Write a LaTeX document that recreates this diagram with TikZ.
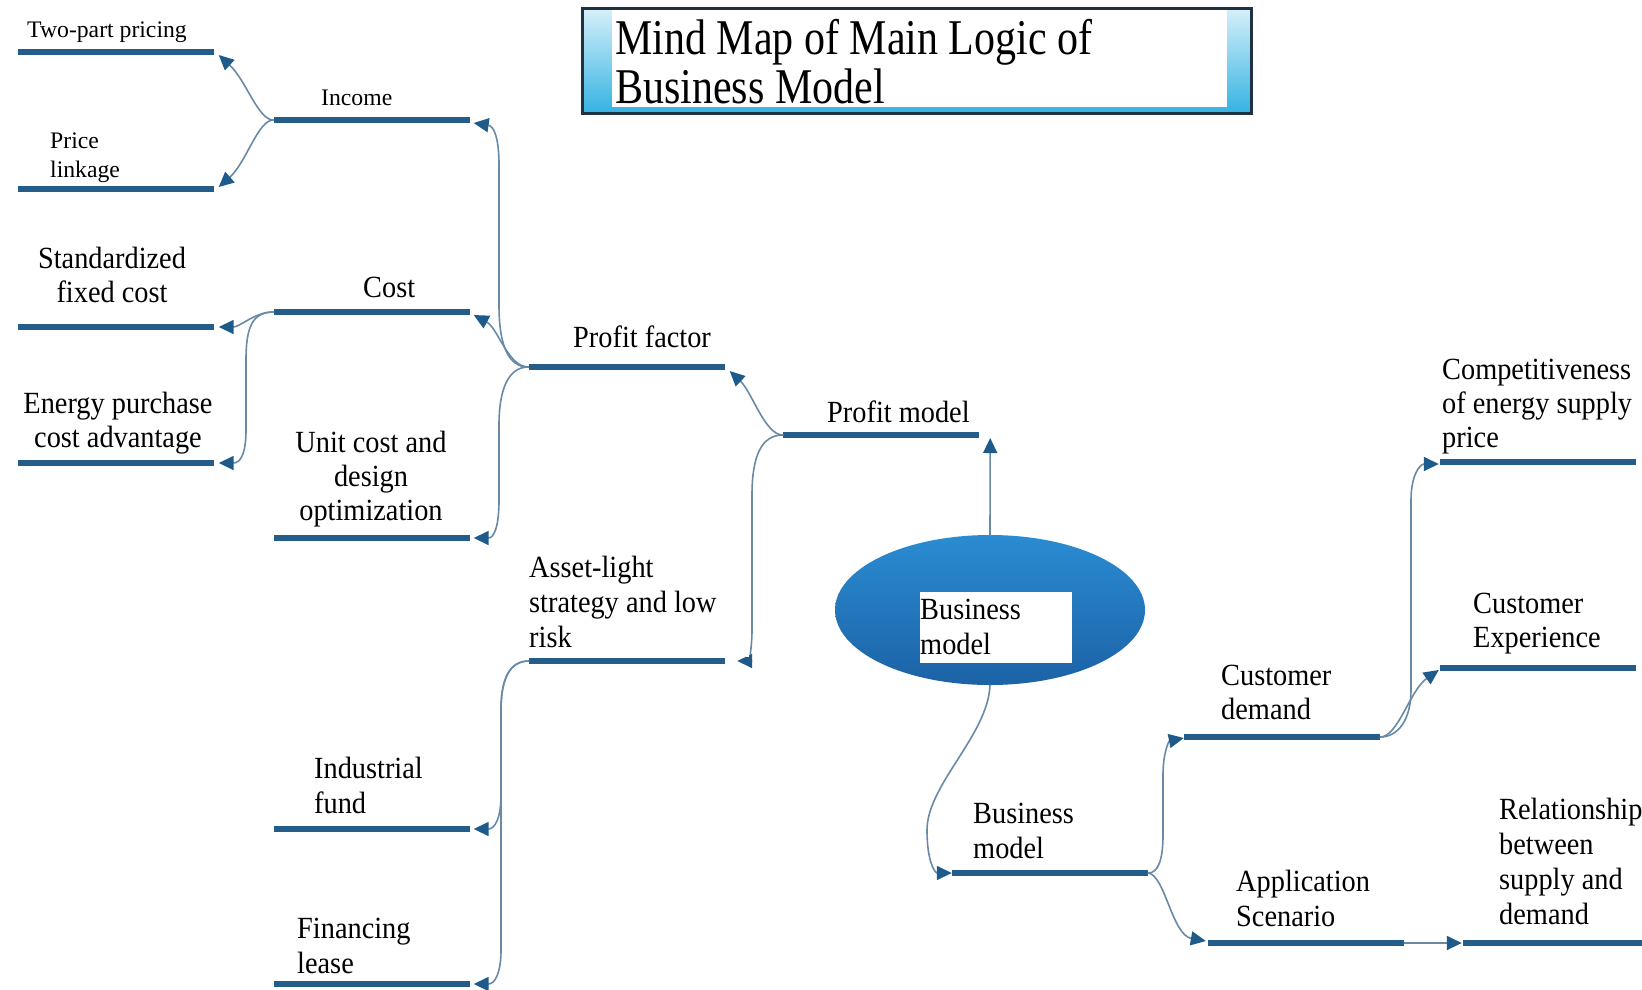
\documentclass[tikz,border=0pt]{standalone}
\usepackage{fontspec}
\setmainfont{Liberation Serif}
\newfontfamily\labelfont{Liberation Serif}[FakeStretch=0.92]
\newfontfamily\headfont{Liberation Serif}[FakeStretch=0.84]
\usetikzlibrary{arrows.meta,shapes.geometric,calc}

\definecolor{barblue}{RGB}{36,92,138}
\definecolor{linkblue}{RGB}{105,138,166}
\definecolor{tipblue}{RGB}{30,90,138}
\definecolor{coretop}{RGB}{42,140,210}
\definecolor{corebottom}{RGB}{28,98,166}
\definecolor{frameedge}{RGB}{30,50,66}
\definecolor{framelight}{RGB}{214,240,250}
\definecolor{framedeep}{RGB}{52,178,226}

% stacked lines whose baseline is the first line
\newcommand\mmlines[2]{\begin{tabular}[t]{@{}#1@{}}#2\end{tabular}}

\begin{document}
\begin{tikzpicture}[x=1pt,y=-1pt,
  bar/.style={rectangle, fill=barblue, inner sep=0pt, minimum height=6.5pt,
    minimum width=196pt},
  conn/.style={draw=linkblue, line width=1.6pt, line cap=round,
    -{Triangle[length=15pt,width=14pt,color=tipblue,fill=tipblue]}},
  lbl/.style={inner sep=0pt, font=\labelfont\fontsize{30.8}{34}\selectfont},
  lblwide/.style={inner sep=0pt, font=\labelfont\fontsize{30.8}{35}\selectfont},
  small/.style={inner sep=0pt, font=\fontsize{23.7}{29}\selectfont},
  headline/.style={inner sep=0pt, font=\headfont\fontsize{50}{48}\selectfont}
]
\fill[white] (0,0) rectangle (1642,989);
\useasboundingbox (0,0) rectangle (1642,989);

% title panel
\node[draw=frameedge, line width=3pt, top color=framelight, bottom color=framedeep,
  minimum width=669pt, minimum height=105pt, inner sep=0pt] (titleframe) at (917,61) {};
\node[fill=white, inner sep=0pt, minimum width=615pt, minimum height=97pt] (titlepanel) at (919.5,58.5) {};
\node[headline, anchor=base west] (title) at (615,54) {\mmlines{l}{Mind Map of Main Logic of\\Business Model}};

% central topic
\node[ellipse, minimum width=310pt, minimum height=150pt, inner sep=0pt,
  top color=coretop, bottom color=corebottom] (core) at (990,610) {};

% branch bars
\node[bar] (twopart) at (115.5,52) {};
\node[bar] (pricelink) at (115.5,189) {};
\node[bar] (income) at (371.5,120) {};
\node[bar] (cost) at (371.5,312) {};
\node[bar] (stdcost) at (115.5,327) {};
\node[bar] (energy) at (115.5,463) {};
\node[bar] (unitcost) at (371.5,538) {};
\node[bar] (pfactor) at (626.5,367) {};
\node[bar] (pmodel) at (881,435) {};
\node[bar] (asset) at (627,661) {};
\node[bar] (indfund) at (371.5,829) {};
\node[bar] (finlease) at (371.5,984) {};
\node[bar] (bmodel) at (1050,873) {};
\node[bar] (cdemand) at (1282,737) {};
\node[bar] (appscen) at (1306,943) {};
\node[bar, minimum width=182pt] (relation) at (1554,943) {};
\node[bar] (compet) at (1538,462) {};
\node[bar] (cexp) at (1538,668) {};

% connectors
\draw[conn] (core.north) -- ($(pmodel.east)+(11,3)$);
\draw[conn] (core.south) .. controls (988,735) and (927,785) .. (927,830)
  .. controls (927,862) and (935,873) .. (bmodel.west);

\draw[conn] (pmodel.west) .. controls (765,435) and (752,392) .. ($(pfactor.east)+(5,4)$);
\draw[conn] (pmodel.west) .. controls (762,435) and (752,455) .. (752,495) -- (752,630)
  .. controls (752,650) and (748,661) .. ($(asset.east)+(12,0)$);

\draw[conn] (pfactor.west) .. controls (508,367) and (499,345) .. (499,305) -- (499,165)
  .. controls (499,138) and (494,126) .. ($(income.east)+(4,3)$);
\draw[conn] (pfactor.west) .. controls (508,367) and (498,328) .. ($(cost.east)+(4,3)$);
\draw[conn] (pfactor.west) .. controls (508,367) and (499,390) .. (499,425) -- (499,500)
  .. controls (499,527) and (494,538) .. ($(unitcost.east)+(4,0)$);

\draw[conn] (income.west) .. controls (258,120) and (246,80) .. ($(twopart.east)+(5,3)$);
\draw[conn] (income.west) .. controls (258,120) and (246,163) .. ($(pricelink.east)+(5,-2)$);

\draw[conn] (cost.west) .. controls (255,312) and (240,327) .. ($(stdcost.east)+(5,0)$);
\draw[conn] (cost.west) .. controls (252,312) and (246,328) .. (246,360) -- (246,430)
  .. controls (246,455) and (240,463) .. ($(energy.east)+(5,0)$);

\draw[conn] (asset.west) .. controls (510,661) and (501,678) .. (501,710) -- (501,795)
  .. controls (501,818) and (495,829) .. ($(indfund.east)+(4,0)$);
\draw[conn] (asset.west) .. controls (510,661) and (501,678) .. (501,710) -- (501,950)
  .. controls (501,973) and (495,984) .. ($(finlease.east)+(4,0)$);

\draw[conn] (bmodel.east) .. controls (1158,873) and (1163,860) .. (1163,835) -- (1163,775)
  .. controls (1163,752) and (1169,741) .. ($(cdemand.west)+(0,1)$);
\draw[conn] (bmodel.east) .. controls (1165,875) and (1172,935) .. ($(appscen.west)+(-2,-2)$);
\draw[conn] (appscen.east) -- ($(relation.west)+(-1,0)$);

\draw[conn] (cdemand.east) .. controls (1398,737) and (1411,720) .. (1411,690) -- (1411,500)
  .. controls (1411,475) and (1420,464) .. ($(compet.west)+(-1,2)$);
\draw[conn] (cdemand.east) .. controls (1398,737) and (1410,690) .. ($(cexp.west)+(-1,2)$);

% labels
\node[small, anchor=base west] (twoparttxt) at (27,37) {Two-part pricing};
\node[small, anchor=base west] (incometxt) at (321,105) {Income};
\node[small, anchor=base west] (pricetxt) at (50,148) {\mmlines{l}{Price\\linkage}};
\node[lbl, anchor=base] (stdtxt) at (112,268) {\mmlines{c}{Standardized\\fixed cost}};
\node[lbl, anchor=base west] (costtxt) at (363,297) {Cost};
\node[lbl, anchor=base] (energytxt) at (118,413) {\mmlines{c}{Energy purchase\\cost advantage}};
\node[lbl, anchor=base] (unittxt) at (371,452) {\mmlines{c}{Unit cost and\\design\\optimization}};
\node[lbl, anchor=base west] (pfactortxt) at (573,347) {Profit factor};
\node[lbl, anchor=base west] (pmodeltxt) at (827,422) {Profit model};
\fill[white] (527,548) rectangle (749,657);
\node[lblwide, anchor=base west] (assettxt) at (529,577) {\mmlines{l}{Asset-light\\strategy and low\\risk}};
\node[lblwide, anchor=base west] (indtxt) at (314,778) {\mmlines{l}{Industrial\\fund}};
\node[lblwide, anchor=base west] (fintxt) at (297,938) {\mmlines{l}{Financing\\lease}};
\node[fill=white, inner sep=0pt, minimum width=152pt, minimum height=71pt, anchor=north west] (corebox) at (920,592) {};
\node[lblwide, anchor=base west] (coretxt) at (920,619) {\mmlines{l}{Business\\model}};
\node[lblwide, anchor=base west] (bmodeltxt) at (973,823) {\mmlines{l}{Business\\model}};
\node[lbl, anchor=base west] (cdemandtxt) at (1221,685) {\mmlines{l}{Customer\\demand}};
\node[lblwide, anchor=base west] (appscentxt) at (1236,891) {\mmlines{l}{Application\\Scenario}};
\node[lblwide, anchor=base west] (relationtxt) at (1499,819) {\mmlines{l}{Relationship\\between\\supply and\\demand}};
\node[lbl, anchor=base west] (competxt) at (1442,379) {\mmlines{l}{Competitiveness\\of energy supply\\price}};
\node[lbl, anchor=base west] (cexptxt) at (1473,613) {\mmlines{l}{Customer\\Experience}};
\end{tikzpicture}
\end{document}
